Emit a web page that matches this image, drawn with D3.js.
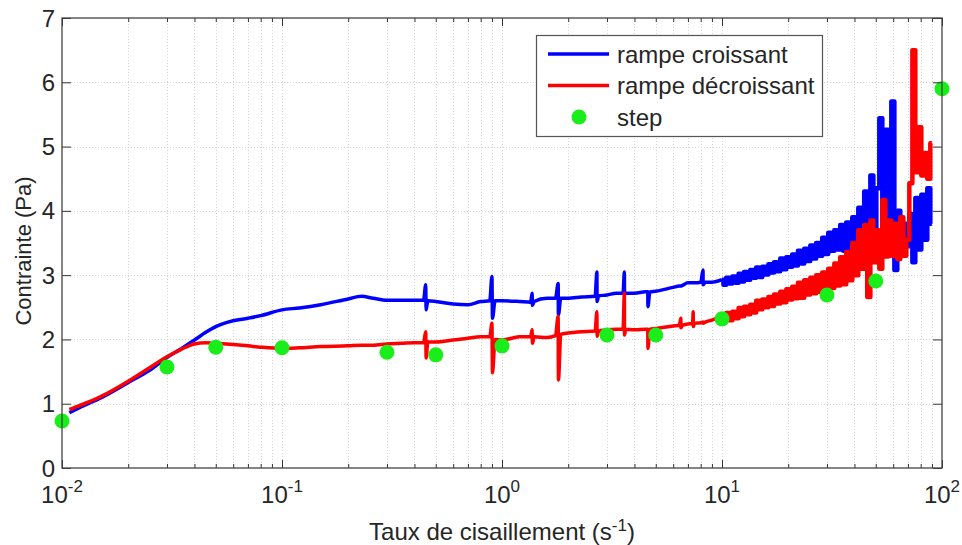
<!DOCTYPE html>
<html>
<head>
<meta charset="utf-8">
<script src="https://cdn.jsdelivr.net/npm/d3@7"></script>
<style>
  body { margin: 0; background: #fff; }
  svg { display: block; }
  text { font-family: "Liberation Sans", Arial, sans-serif; fill: #262626; }
</style>
</head>
<body>
<div id="chart"></div>
<script>
// shear rates (s-1) shared by both ramps
const rateX = [
  0.0108, 0.012, 0.015, 0.02, 0.025, 0.03, 0.035, 0.04, 0.045, 0.05,
  0.06, 0.07, 0.08, 0.1, 0.12, 0.15, 0.2, 0.23, 0.26, 0.3,
  0.35, 0.4, 0.44, 0.45, 0.452, 0.46, 0.5, 0.6, 0.7, 0.8,
  0.88, 0.9, 0.905, 0.93, 1.0, 1.2, 1.35, 1.37, 1.375, 1.4,
  1.6, 1.75, 1.8, 1.805, 1.85, 2.0, 2.3, 2.65, 2.7, 2.705,
  2.75, 3.0, 3.3, 3.55, 3.6, 3.605, 3.65, 4.0, 4.5, 4.6,
  4.605, 4.7, 5.0, 6.0, 6.4, 6.5, 6.505, 6.6, 7.0, 7.35,
  7.4, 7.405, 7.5, 8.0, 8.2, 8.205, 8.4, 9.0,
  10, 10.3, 10.6, 11.0, 11.3, 11.7, 12.1, 12.4, 12.8, 13.2,
  13.7, 14.1, 14.5, 15.0, 15.5, 16.0, 16.5, 17.0, 17.5, 18.1,
  18.7, 19.3, 19.9, 20.5, 21.2, 21.8, 22.5, 23.3, 24.0, 24.8,
  25.6, 26.4, 27.2, 28.1, 29.0, 29.9, 30.9, 31.9, 32.9, 33.9,
  35.0, 36.1, 37.3, 38.5, 39.7, 41.0, 42.3, 43.6, 45.0, 46.5,
  48.0, 49.5, 51.1, 52.7, 54.4, 56.1, 57.9, 59.8, 61.7, 63.6,
  65.7, 67.8, 69.9, 72.2, 74.5, 76.8, 79.3, 81.8, 84.4, 87.1, 89.9
]
// from this index on the signal is a noisy band
const noisyFrom = 78

// contrainte (Pa), rampe croissant
const croissantY = [
  0.86, 0.94, 1.09, 1.33, 1.52, 1.72, 1.86, 1.99, 2.11, 2.20,
  2.29, 2.33, 2.37, 2.46, 2.49, 2.54, 2.63, 2.67, 2.64, 2.61,
  2.61, 2.61, 2.61, 2.85, 2.46, 2.60, 2.59, 2.55, 2.54, 2.59,
  2.60, 2.98, 2.33, 2.60, 2.60, 2.59, 2.58, 2.72, 2.53, 2.59,
  2.64, 2.64, 2.87, 2.38, 2.64, 2.64, 2.66, 2.67, 3.05, 2.59,
  2.68, 2.69, 2.72, 2.72, 3.05, 2.70, 2.72, 2.72, 2.74, 2.74,
  2.51, 2.74, 2.75, 2.81, 2.83, 2.83, 2.83, 2.84, 2.88, 2.88,
  2.88, 2.88, 2.88, 2.89, 3.08, 2.85, 2.89, 2.89,
  2.93, 2.85, 2.96, 2.87, 2.98, 2.88, 3.02, 2.90, 3.05, 2.93,
  3.08, 2.96, 3.12, 2.97, 3.13, 3.01, 3.17, 3.04, 3.20, 3.06,
  3.26, 3.09, 3.28, 3.13, 3.32, 3.15, 3.38, 3.18, 3.41, 3.22,
  3.46, 3.26, 3.50, 3.30, 3.58, 3.33, 3.66, 3.38, 3.70, 3.40,
  3.78, 3.38, 3.82, 3.42, 3.90, 3.45, 4.05, 3.40, 4.30, 3.35,
  4.55, 3.45, 4.35, 5.44, 3.60, 5.26, 3.80, 5.70, 3.08, 4.00,
  3.40, 3.80, 3.45, 3.95, 3.20, 4.20, 3.40, 4.25, 3.55, 4.35, 3.80
]

// contrainte (Pa), rampe décroissant
const decroissantY = [
  0.91, 0.97, 1.11, 1.35, 1.56, 1.73, 1.85, 1.93, 1.95, 1.94,
  1.92, 1.90, 1.88, 1.86, 1.87, 1.89, 1.90, 1.91, 1.91, 1.93,
  1.94, 1.95, 1.95, 2.12, 1.71, 1.96, 1.96, 1.99, 2.02, 2.04,
  2.04, 2.25, 1.48, 2.00, 1.99, 2.04, 2.04, 2.15, 1.94, 2.04,
  2.03, 2.06, 2.36, 1.37, 2.08, 2.10, 2.12, 2.13, 2.43, 2.05,
  2.13, 2.15, 2.16, 2.16, 2.72, 2.07, 2.16, 2.15, 2.16, 2.16,
  1.86, 2.16, 2.17, 2.21, 2.22, 2.33, 2.18, 2.22, 2.24, 2.25,
  2.43, 2.20, 2.25, 2.26, 2.27, 2.25, 2.27, 2.30,
  2.38, 2.28, 2.41, 2.30, 2.43, 2.33, 2.49, 2.36, 2.51, 2.39,
  2.54, 2.42, 2.60, 2.47, 2.62, 2.50, 2.66, 2.52, 2.70, 2.56,
  2.74, 2.58, 2.78, 2.62, 2.82, 2.64, 2.88, 2.65, 2.92, 2.70,
  2.96, 2.72, 3.00, 2.74, 3.04, 2.70, 3.10, 2.80, 3.18, 2.84,
  3.28, 2.86, 3.36, 2.92, 3.50, 3.00, 3.70, 3.10, 3.78, 2.66,
  3.85, 3.20, 3.70, 3.10, 4.17, 3.29, 3.85, 3.30, 3.80, 3.25,
  3.90, 3.30, 3.55, 4.43, 6.50, 4.60, 5.30, 4.55, 4.90, 4.50, 5.05
]

// step measurements
const stepX = [0.01, 0.03, 0.05, 0.1, 0.3, 0.5, 1, 3, 5, 10, 30, 50, 100]
const stepY = [0.73, 1.57, 1.88, 1.87, 1.80, 1.76, 1.90, 2.07, 2.07, 2.32, 2.69, 2.91, 5.90]

const xMajor = [0.01, 0.1, 1, 10, 100]
const xExponents = ['-2', '-1', '0', '1', '2']
const yTicks = [0, 1, 2, 3, 4, 5, 6, 7]
const seriesNames = ['rampe croissant', 'rampe décroissant', 'step']

const W = 962
const H = 545
const margin = { top: 18, right: 20, bottom: 77, left: 62 }
const width = W - margin.left - margin.right
const height = H - margin.top - margin.bottom

const svg = d3.select('#chart')
  .append('svg')
  .attr('width', W)
  .attr('height', H)

const g = svg.append('g')
  .attr('transform', `translate(${margin.left},${margin.top})`)

const x = d3.scaleLog().domain([0.01, 100]).range([0, width])
const y = d3.scaleLinear().domain([0, 7]).range([height, 0])

const allX = x.ticks()
const minorX = allX.filter(v => !xMajor.includes(v))

// grid
const grid = g.append('g')
  .attr('stroke', '#d4d4d4')
  .attr('stroke-width', 1)
  .attr('stroke-dasharray', '1,2')
grid.selectAll('line.gx')
  .data(allX.filter(v => v > 0.01 && v < 100))
  .join('line')
  .attr('class', 'gx')
  .attr('x1', d => Math.round(x(d)) + 0.5)
  .attr('x2', d => Math.round(x(d)) + 0.5)
  .attr('y1', 0)
  .attr('y2', height)
grid.selectAll('line.gy')
  .data(yTicks.filter(v => v > 0 && v < 7))
  .join('line')
  .attr('class', 'gy')
  .attr('x1', 0)
  .attr('x2', width)
  .attr('y1', d => Math.round(y(d)) + 0.5)
  .attr('y2', d => Math.round(y(d)) + 0.5)

// ramps: smooth part as a line, noisy part as a dense band
const line = d3.line()
  .x(d => x(d[0]))
  .y(d => y(d[1]))
  .curve(d3.curveMonotoneX)
const noisyLine = d3.line()
  .x(d => x(d[0]))
  .y(d => y(d[1]))
  .curve(d3.curveStep)

function drawRamp (values, color) {
  const pts = rateX.map((v, i) => [v, values[i]])
  g.append('path')
    .datum(pts.slice(0, noisyFrom + 1))
    .attr('fill', 'none')
    .attr('stroke', color)
    .attr('stroke-width', 3.5)
    .attr('stroke-linejoin', 'round')
    .attr('d', line)
  g.append('path')
    .datum(pts.slice(noisyFrom))
    .attr('fill', 'none')
    .attr('stroke', color)
    .attr('stroke-width', 4.5)
    .attr('stroke-linejoin', 'round')
    .attr('d', noisyLine)
}

drawRamp(croissantY, '#0000ff')
drawRamp(decroissantY, '#ff0000')

g.selectAll('circle.step')
  .data(stepX.map((v, i) => [v, stepY[i]]))
  .join('circle')
  .attr('class', 'step')
  .attr('cx', d => x(d[0]))
  .attr('cy', d => y(d[1]))
  .attr('r', 7.5)
  .attr('fill', '#1aee1a')

// axes: ticks pointing inwards on all four sides
const noLabel = () => ''
const tidy = sel => sel.call(s => s.select('.domain').remove())
  .selectAll('line').attr('stroke', '#333')

g.append('g').attr('transform', `translate(0,${height})`)
  .call(d3.axisBottom(x).tickValues(xMajor).tickSize(-8).tickFormat(noLabel)).call(tidy)
g.append('g').attr('transform', `translate(0,${height})`)
  .call(d3.axisBottom(x).tickValues(minorX).tickSize(-4).tickFormat(noLabel)).call(tidy)
g.append('g')
  .call(d3.axisTop(x).tickValues(xMajor).tickSize(-8).tickFormat(noLabel)).call(tidy)
g.append('g')
  .call(d3.axisTop(x).tickValues(minorX).tickSize(-4).tickFormat(noLabel)).call(tidy)
g.append('g')
  .call(d3.axisLeft(y).tickValues(yTicks).tickSize(-9).tickFormat(noLabel)).call(tidy)
g.append('g').attr('transform', `translate(${width},0)`)
  .call(d3.axisRight(y).tickValues(yTicks).tickSize(-9).tickFormat(noLabel)).call(tidy)

g.append('rect')
  .attr('x', 0)
  .attr('y', 0)
  .attr('width', width)
  .attr('height', height)
  .attr('fill', 'none')
  .attr('stroke', '#444')
  .attr('stroke-width', 1.3)

// tick labels
g.selectAll('text.ylab')
  .data(yTicks)
  .join('text')
  .attr('class', 'ylab')
  .attr('x', -7)
  .attr('y', d => y(d))
  .attr('dy', '0.36em')
  .attr('text-anchor', 'end')
  .style('font-size', '24px')
  .text(d => d)

const xlab = g.selectAll('text.xlab')
  .data(xMajor)
  .join('text')
  .attr('class', 'xlab')
  .attr('x', d => x(d))
  .attr('y', height + 35)
  .attr('text-anchor', 'middle')
  .style('font-size', '24px')
xlab.append('tspan').text('10')
xlab.append('tspan')
  .attr('dy', -11)
  .style('font-size', '17px')
  .text((d, i) => xExponents[i])

// axis titles
const xt = svg.append('text')
  .attr('x', margin.left + width / 2)
  .attr('y', 540)
  .attr('text-anchor', 'middle')
  .style('font-size', '24px')
xt.append('tspan').text('Taux de cisaillement (s')
xt.append('tspan').attr('dy', -9).style('font-size', '17px').text('-1')
xt.append('tspan').attr('dy', 9).text(')')

svg.append('text')
  .attr('transform', `translate(31,${margin.top + height / 2 + 8}) rotate(-90)`)
  .attr('text-anchor', 'middle')
  .style('font-size', '22px')
  .text('Contrainte (Pa)')

// legend
const legend = svg.append('g').attr('transform', 'translate(536,35)')
legend.append('rect')
  .attr('x', 0.5)
  .attr('y', 0.5)
  .attr('width', 286)
  .attr('height', 101)
  .attr('fill', '#fff')
  .attr('stroke', '#555')
  .attr('stroke-width', 1.2)

const legendColors = ['#0000ff', '#ff0000', '#1aee1a']
const rows = legend.selectAll('g.row')
  .data(seriesNames)
  .join('g')
  .attr('class', 'row')
  .attr('transform', (d, i) => `translate(0,${19 + i * 31.5})`)

rows.filter((d, i) => i < 2)
  .append('line')
  .attr('x1', 12)
  .attr('x2', 73)
  .attr('stroke', (d, i) => legendColors[i])
  .attr('stroke-width', 3.5)

rows.filter((d, i) => i === 2)
  .append('circle')
  .attr('cx', 43)
  .attr('r', 7.5)
  .attr('fill', legendColors[2])

rows.append('text')
  .attr('x', 81)
  .attr('dy', '0.36em')
  .style('font-size', '24px')
  .text(d => d)
</script>
</body>
</html>
